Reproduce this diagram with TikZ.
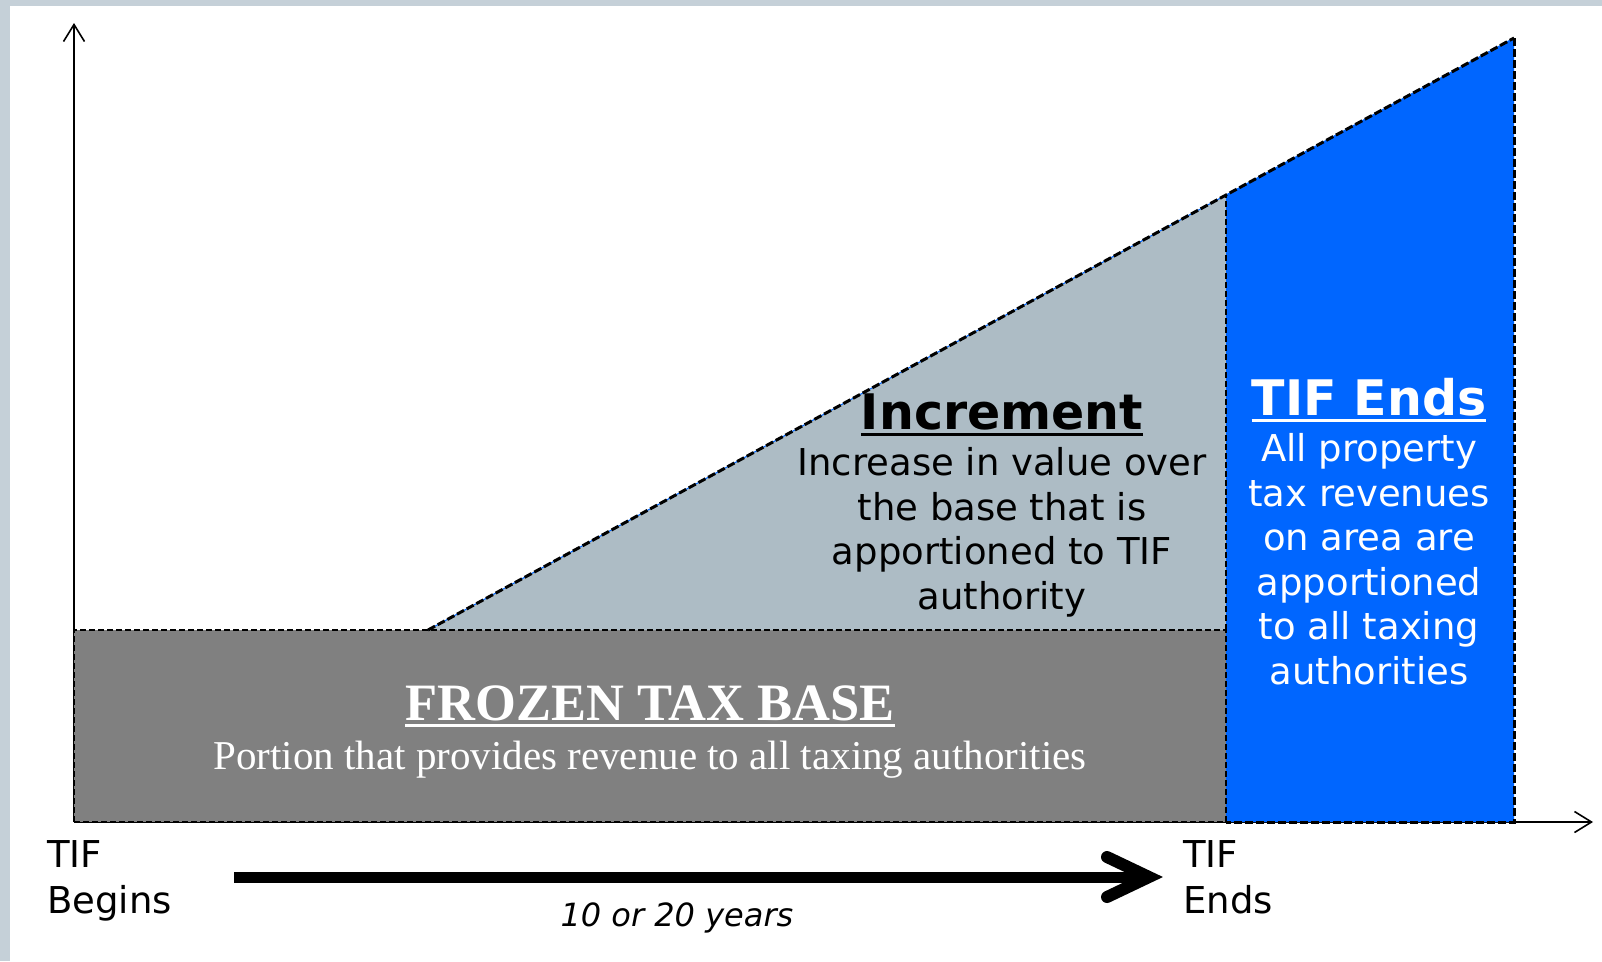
\documentclass[tikz,border=0pt]{standalone}
\usepackage{fontspec}
\setmainfont{Liberation Serif}
\setsansfont{DejaVu Sans}
\usetikzlibrary{arrows.meta,calc}
\definecolor{framegray}{HTML}{C5D0D8}
\definecolor{basegray}{HTML}{808080}
\definecolor{incgray}{HTML}{ADBCC5}
\definecolor{endblue}{HTML}{0066FF}
\newcommand{\ulhead}[1]{\setbox0=\hbox{#1}\rlap{\rule[-7pt]{\wd0}{3.5pt}}\box0}

\begin{document}
\begin{tikzpicture}[x=1pt,y=-1pt,
    axis/.style={line width=2pt,-{Straight Barb[length=17pt,width=21pt,line width=1.6pt]}},
    edge/.style={line width=1.5pt,dash pattern=on 6pt off 3pt},
    slope/.style={line width=3pt,dash pattern=on 8pt off 3pt},
    sanstext/.style={font=\sffamily\fontsize{37}{44.5}\selectfont,align=center,inner sep=0pt},
    sanshead/.style={font=\sffamily\bfseries\fontsize{49}{52}\selectfont,inner sep=0pt},
    lbl/.style={font=\sffamily\fontsize{37}{46}\selectfont,align=left,inner sep=0pt,anchor=base west}]
  \useasboundingbox (0,0) rectangle (1602,961);
  \fill[framegray] (0,0) rectangle (1602,6);
  \fill[framegray] (0,0) rectangle (10,961);

  % axes
  \coordinate (o) at (74,822);
  \coordinate (ytip) at (74,23);
  \coordinate (xtip) at (1593,822);
  \draw[axis] (o) -- (ytip);
  \draw[axis] (o) -- (xtip);

  % areas
  \coordinate (basetl) at (74,630);
  \coordinate (kink) at (428,630);
  \coordinate (endtop) at (1226,195);
  \coordinate (endbase) at (1226,630);
  \coordinate (endbot) at (1226,822);
  \coordinate (peak) at (1514,38);
  \coordinate (peakbot) at (1514,822);
  \fill[basegray] (basetl) rectangle (endbot);
  \fill[incgray] (kink) -- (endtop) -- (endbase) -- cycle;
  \fill[endblue] (endtop) -- (peak) -- (peakbot) -- (endbot) -- cycle;
  \draw[edge] (o) -- (basetl) -- (endbase) -- (endbot) -- cycle;
  \draw[edge] (endbase) -- (endtop);
  \draw[endblue,line width=1pt] (kink) -- (endtop) -- (peak);
  \draw[slope] (kink) -- (endtop) -- (peak);
  \draw[slope] (peak) -- (peakbot) -- (endbot);

  % texts (base of a multi-line node = its last line)
  \node[sanshead,anchor=base] (inchead) at (1002,429) {\ulhead{Increment}};
  \node[sanstext,anchor=base] (incbody) at (1002,609)
    {Increase in value over\\the base that is\\apportioned to TIF\\authority};
  \node[sanshead,text=white,anchor=base] (endhead) at (1369,415) {\ulhead{TIF Ends}};
  \node[sanstext,text=white,anchor=base] (endbody) at (1369,684)
    {All property\\tax revenues\\on area are\\apportioned\\to all taxing\\authorities};
  \node[font=\rmfamily\bfseries\fontsize{52.5}{56}\selectfont,text=white,inner sep=0pt,anchor=base]
    (basehead) at (650,720) {\ulhead{FROZEN TAX BASE}};
  \node[font=\rmfamily\fontsize{41}{44}\selectfont,text=white,inner sep=0pt,anchor=base]
    (basebody) at (650,769) {Portion that provides revenue to all taxing authorities};

  % time line
  \node[lbl] (begins) at (47,913) {TIF\\Begins};
  \node[lbl] (ends) at (1183,913) {TIF\\Ends};
  \node[font=\sffamily\itshape\fontsize{32}{36}\selectfont,inner sep=0pt,anchor=base]
    (years) at (677,926) {10 or 20 years};
  \coordinate (runstart) at (234,877);
  \coordinate (runend) at (1149,877);
  \draw[line width=11pt] (runstart) -- (runend);
  \draw[line width=12pt,line cap=round,line join=miter]
    ($(runend)+(-42,-20)$) -- (runend) -- ($(runend)+(-42,20)$);
\end{tikzpicture}
\end{document}
